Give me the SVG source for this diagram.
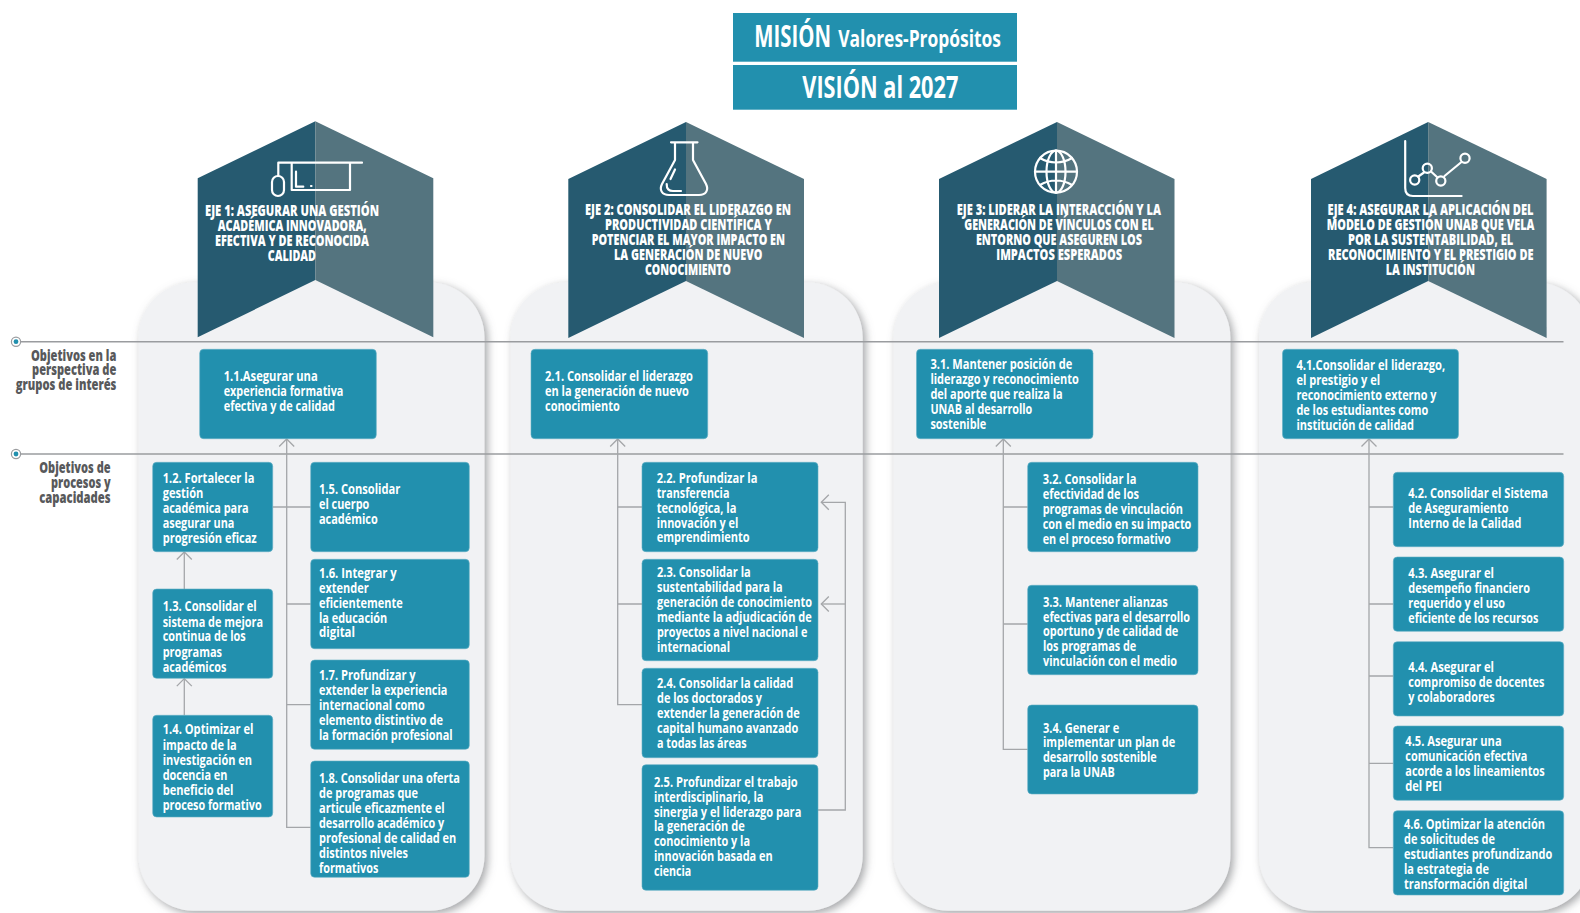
<svg xmlns="http://www.w3.org/2000/svg" width="1580" height="913" viewBox="0 0 1580 913">
<style>
text{font-family:"Open Sans","Liberation Sans",sans-serif;fill:#fff}
.b{font-size:15px;font-weight:700}
.h{font-size:15.5px;font-weight:800}
.l{font-size:15px;font-weight:800;fill:#58595b}
.tl{font-size:30px;font-weight:700}
.ts{font-size:24px;font-weight:700}
.box{fill:#2290ae;stroke:#62aec4;stroke-width:.6}
.top{fill:#2290ae}
.panel{fill:#f1f2f4;filter:url(#sh)}
.dk{fill:#265a70}
.lt{fill:#54747f}
.ic{fill:none;stroke:#fff;stroke-width:2.200;stroke-linecap:round;stroke-linejoin:round}
.c{fill:none;stroke:#a4a6a9;stroke-width:1.300}
.ca{fill:none;stroke:#a4a6a9;stroke-width:1.300;marker-end:url(#arr)}
.g{fill:none;stroke:#9a9c9f;stroke-width:1.500}
</style>
<defs>
<filter id="sh" x="-15%" y="-10%" width="130%" height="120%"><feDropShadow dx="3" dy="3" stdDeviation="4.500" flood-color="#6d6f72" flood-opacity=".62"/></filter>
<marker id="arr" markerUnits="userSpaceOnUse" markerWidth="18" markerHeight="18" refX="9" refY="9" orient="auto" overflow="visible"><path d="M1.500,1.500 L9,9 L1.500,16.500" fill="none" stroke="#a4a6a9" stroke-width="1.300"/></marker>
</defs>
<rect width="1580" height="913" fill="#fff"/>
<g id="panels">
<rect class="panel" x="138.500" y="282.500" width="346" height="628.200" rx="55"/>
<rect class="panel" x="510.500" y="282.500" width="352.200" height="628.200" rx="55"/>
<rect class="panel" x="893.500" y="282.500" width="336.900" height="628.200" rx="55"/>
<rect class="panel" x="1259" y="282.500" width="332" height="628.200" rx="55"/>
</g>
<g id="guides">
<path class="g" d="M21,341.700H1563.500"/>
<path class="g" d="M21,454H1563.500"/>
<circle cx="16" cy="341.700" r="4.600" fill="#fff" stroke="#9a9c9f" stroke-width="1.200"/><circle cx="16" cy="341.700" r="2.400" fill="#2290ae"/>
<circle cx="16" cy="454" r="4.600" fill="#fff" stroke="#9a9c9f" stroke-width="1.200"/><circle cx="16" cy="454" r="2.400" fill="#2290ae"/>
</g>
<g id="label-grupos"><text class="l"><tspan x="31" y="360.700" textLength="85.300" lengthAdjust="spacingAndGlyphs">Objetivos en la</tspan><tspan x="32" y="375" textLength="84.300" lengthAdjust="spacingAndGlyphs">perspectiva de</tspan><tspan x="15.700" y="390" textLength="100.700" lengthAdjust="spacingAndGlyphs">grupos de interés</tspan></text></g>
<g id="label-procesos"><text class="l"><tspan x="39.300" y="473.200" textLength="71.300" lengthAdjust="spacingAndGlyphs">Objetivos de</tspan><tspan x="51" y="488.200" textLength="59.700" lengthAdjust="spacingAndGlyphs">procesos y</tspan><tspan x="39.300" y="503" textLength="71.300" lengthAdjust="spacingAndGlyphs">capacidades</tspan></text></g>
<g id="mision"><rect class="top" x="733" y="13" width="284" height="48.700"/><text><tspan class="tl" x="754.300" y="46.700" textLength="76.700" lengthAdjust="spacingAndGlyphs">MISIÓN</tspan><tspan class="ts" x="838.300" y="46.700" textLength="162.700" lengthAdjust="spacingAndGlyphs">Valores-Propósitos</tspan></text></g>
<g id="vision"><rect class="top" x="733" y="65" width="284" height="44.700"/><text class="tl" x="802.300" y="98.300" textLength="156" lengthAdjust="spacingAndGlyphs">VISIÓN al 2027</text></g>

<g id="connectors">
<path class="ca" d="M310.700,827.300H286.700V439"/>
<path class="c" d="M272.700,507H310.700M286.700,604H310.700M286.700,704.700H310.700"/>
<path class="ca" d="M184.300,589V552"/>
<path class="ca" d="M184.300,715.300V678.600"/>
<path class="ca" d="M642,704.700H617.700V439"/>
<path class="c" d="M617.700,507H642M617.700,604H642"/>
<path class="ca" d="M818,810H845.300V502.300H821.300"/>
<path class="ca" d="M845.300,604H821.300"/>
<path class="ca" d="M1027.700,749.300H1003.300V439"/>
<path class="c" d="M1003.300,507H1027.700M1003.300,624H1027.700"/>
<path class="ca" d="M1393.300,847.700H1369V439"/>
<path class="c" d="M1369,507H1393.300M1369,604H1393.300M1369,676H1393.300M1369,763.300H1393.300"/>
</g>

<g id="eje1">
<polygon class="dk" points="315.300,121.300 197.700,178.300 197.700,337.300 315.300,280"/><polygon class="lt" points="315.300,121.300 433.300,178.300 433.300,337.300 315.300,280"/>
<path class="ic" d="M362,162.700H278.300V176M291.700,162.700V190H350V162.700M296,171.700V186.700H303.300M311,186H311.500"/><rect class="ic" x="272" y="176" width="12" height="20" rx="6"/>
<text class="h"><tspan x="205" y="216" textLength="174" lengthAdjust="spacingAndGlyphs">EJE 1: ASEGURAR UNA GESTIÓN</tspan><tspan x="217.700" y="231" textLength="149" lengthAdjust="spacingAndGlyphs">ACADÉMICA INNOVADORA,</tspan><tspan x="215" y="246" textLength="154" lengthAdjust="spacingAndGlyphs">EFECTIVA Y DE RECONOCIDA</tspan><tspan x="267.700" y="261" textLength="48.300" lengthAdjust="spacingAndGlyphs">CALIDAD</tspan></text>
</g>
<g id="eje2">
<polygon class="dk" points="686,122 568.300,179 568.300,338 686,281"/><polygon class="lt" points="686,122 804,179 804,338 686,281"/>
<path class="ic" d="M671,142.300H697.500M675,143V160L662,184C659,190 662,195 669,195H699C706,195 709,190 706,184L693,160V143M675,169.500L670.500,179M666.700,184C666.500,189 669,191 673,191H681"/>
<text class="h"><tspan x="585" y="215.300" textLength="206" lengthAdjust="spacingAndGlyphs">EJE 2: CONSOLIDAR EL LIDERAZGO EN</tspan><tspan x="605" y="230" textLength="166.700" lengthAdjust="spacingAndGlyphs">PRODUCTIVIDAD CIENTÍFICA Y</tspan><tspan x="591.700" y="245" textLength="193.300" lengthAdjust="spacingAndGlyphs">POTENCIAR EL MAYOR IMPACTO EN</tspan><tspan x="614" y="260" textLength="148.300" lengthAdjust="spacingAndGlyphs">LA GENERACIÓN DE NUEVO</tspan><tspan x="645" y="275" textLength="86" lengthAdjust="spacingAndGlyphs">CONOCIMIENTO</tspan></text>
</g>
<g id="eje3">
<polygon class="dk" points="1057,122 939,179 939,338 1057,281"/><polygon class="lt" points="1057,122 1174.500,179 1174.500,338 1057,281"/>
<circle class="ic" cx="1056" cy="171.700" r="21"/><ellipse class="ic" cx="1056" cy="171.700" rx="9.500" ry="21"/><path class="ic" d="M1056,150.700V192.700M1035,171.700H1077M1040,158C1050,164 1062,164 1072,158M1040,185C1050,179 1062,179 1072,185"/>
<text class="h"><tspan x="956.800" y="215" textLength="204.200" lengthAdjust="spacingAndGlyphs">EJE 3: LIDERAR LA INTERACCIÓN Y LA</tspan><tspan x="964.200" y="230" textLength="189.500" lengthAdjust="spacingAndGlyphs">GENERACIÓN DE VÍNCULOS CON EL</tspan><tspan x="975.900" y="245" textLength="166" lengthAdjust="spacingAndGlyphs">ENTORNO QUE ASEGUREN LOS</tspan><tspan x="996.300" y="260" textLength="125.800" lengthAdjust="spacingAndGlyphs">IMPACTOS ESPERADOS</tspan></text>
</g>
<g id="eje4">
<polygon class="dk" points="1428.200,122 1311,179 1311,338 1428.200,281"/><polygon class="lt" points="1428.200,122 1546.600,179 1546.600,338 1428.200,281"/>
<path class="ic" d="M1405.200,141V188C1405.200,193 1408,196 1413,196H1461.600M1418.300,176.500L1424,172.500M1431,171.500L1437.500,177.500M1444.500,176L1461.500,162"/><circle class="ic" cx="1414.700" cy="180" r="4.600"/><circle class="ic" cx="1427.300" cy="168.300" r="4.600"/><circle class="ic" cx="1440.800" cy="181" r="4.600"/><circle class="ic" cx="1465" cy="158.300" r="4.600"/>
<text class="h"><tspan x="1327.600" y="215" textLength="206" lengthAdjust="spacingAndGlyphs">EJE 4: ASEGURAR LA APLICACIÓN DEL</tspan><tspan x="1326.700" y="230" textLength="207.700" lengthAdjust="spacingAndGlyphs">MODELO DE GESTIÓN UNAB QUE VELA</tspan><tspan x="1348" y="245" textLength="165.200" lengthAdjust="spacingAndGlyphs">POR LA SUSTENTABILIDAD, EL</tspan><tspan x="1328" y="260" textLength="205.500" lengthAdjust="spacingAndGlyphs">RECONOCIMIENTO Y EL PRESTIGIO DE</tspan><tspan x="1385.700" y="275" textLength="89.300" lengthAdjust="spacingAndGlyphs">LA INSTITUCIÓN</tspan></text>
</g>

<g id="n1-1"><rect class="box" x="199.700" y="349.300" width="176.600" height="89.400" rx="4"/><text class="b"><tspan x="223.700" y="380.700" textLength="94" lengthAdjust="spacingAndGlyphs">1.1.Asegurar una</tspan><tspan x="223.700" y="395.700" textLength="119.700" lengthAdjust="spacingAndGlyphs">experiencia formativa</tspan><tspan x="223.700" y="410.700" textLength="111.300" lengthAdjust="spacingAndGlyphs">efectiva y de calidad</tspan></text></g>
<g id="n1-2"><rect class="box" x="152.700" y="462.300" width="120" height="89.400" rx="4"/><text class="b"><tspan x="162.700" y="482.700" textLength="91.700" lengthAdjust="spacingAndGlyphs">1.2. Fortalecer la</tspan><tspan x="162.700" y="497.700" textLength="40.700" lengthAdjust="spacingAndGlyphs">gestión</tspan><tspan x="162.700" y="512.700" textLength="86" lengthAdjust="spacingAndGlyphs">académica para</tspan><tspan x="162.700" y="527.700" textLength="71.700" lengthAdjust="spacingAndGlyphs">asegurar una</tspan><tspan x="162.700" y="542.700" textLength="94" lengthAdjust="spacingAndGlyphs">progresión eficaz</tspan></text></g>
<g id="n1-3"><rect class="box" x="152.700" y="589" width="120" height="89.300" rx="4"/><text class="b"><tspan x="162.700" y="611.300" textLength="94" lengthAdjust="spacingAndGlyphs">1.3. Consolidar el</tspan><tspan x="162.700" y="626.700" textLength="100.300" lengthAdjust="spacingAndGlyphs">sistema de mejora</tspan><tspan x="162.700" y="641.300" textLength="83" lengthAdjust="spacingAndGlyphs">continua de los</tspan><tspan x="162.700" y="656.700" textLength="59.300" lengthAdjust="spacingAndGlyphs">programas</tspan><tspan x="162.700" y="671.700" textLength="63.700" lengthAdjust="spacingAndGlyphs">académicos</tspan></text></g>
<g id="n1-4"><rect class="box" x="152.700" y="715.300" width="120" height="101.700" rx="4"/><text class="b"><tspan x="162.700" y="734.300" textLength="90.700" lengthAdjust="spacingAndGlyphs">1.4. Optimizar el</tspan><tspan x="162.700" y="749.700" textLength="74" lengthAdjust="spacingAndGlyphs">impacto de la</tspan><tspan x="162.700" y="764.700" textLength="89.300" lengthAdjust="spacingAndGlyphs">investigación en</tspan><tspan x="162.700" y="779.700" textLength="64.700" lengthAdjust="spacingAndGlyphs">docencia en</tspan><tspan x="162.700" y="794.700" textLength="70.700" lengthAdjust="spacingAndGlyphs">beneficio del</tspan><tspan x="162.700" y="809.700" textLength="99" lengthAdjust="spacingAndGlyphs">proceso formativo</tspan></text></g>
<g id="n1-5"><rect class="box" x="310.700" y="462.300" width="158.600" height="89.400" rx="4"/><text class="b"><tspan x="319" y="493.700" textLength="81.300" lengthAdjust="spacingAndGlyphs">1.5. Consolidar</tspan><tspan x="319" y="508.700" textLength="50.300" lengthAdjust="spacingAndGlyphs">el cuerpo</tspan><tspan x="319" y="523.700" textLength="58.700" lengthAdjust="spacingAndGlyphs">académico</tspan></text></g>
<g id="n1-6"><rect class="box" x="310.700" y="559.300" width="158.600" height="89.400" rx="4"/><text class="b"><tspan x="319" y="577.700" textLength="77.700" lengthAdjust="spacingAndGlyphs">1.6. Integrar y</tspan><tspan x="319" y="592.700" textLength="49.700" lengthAdjust="spacingAndGlyphs">extender</tspan><tspan x="319" y="607.700" textLength="83.700" lengthAdjust="spacingAndGlyphs">eficientemente</tspan><tspan x="319" y="622.700" textLength="68.300" lengthAdjust="spacingAndGlyphs">la educación</tspan><tspan x="319" y="636.700" textLength="36" lengthAdjust="spacingAndGlyphs">digital</tspan></text></g>
<g id="n1-7"><rect class="box" x="310.700" y="660" width="158.600" height="89.300" rx="4"/><text class="b"><tspan x="319" y="679.700" textLength="96.700" lengthAdjust="spacingAndGlyphs">1.7. Profundizar y</tspan><tspan x="319" y="694.700" textLength="128.300" lengthAdjust="spacingAndGlyphs">extender la experiencia</tspan><tspan x="319" y="709.700" textLength="105.700" lengthAdjust="spacingAndGlyphs">internacional como</tspan><tspan x="319" y="724.700" textLength="124" lengthAdjust="spacingAndGlyphs">elemento distintivo de</tspan><tspan x="319" y="739.700" textLength="133.700" lengthAdjust="spacingAndGlyphs">la formación profesional</tspan></text></g>
<g id="n1-8"><rect class="box" x="310.700" y="761" width="158.600" height="116.300" rx="4"/><text class="b"><tspan x="319" y="782.700" textLength="141" lengthAdjust="spacingAndGlyphs">1.8. Consolidar una oferta</tspan><tspan x="319" y="797.700" textLength="99" lengthAdjust="spacingAndGlyphs">de programas que</tspan><tspan x="319" y="812.700" textLength="125.700" lengthAdjust="spacingAndGlyphs">articule eficazmente el</tspan><tspan x="319" y="827.700" textLength="125.300" lengthAdjust="spacingAndGlyphs">desarrollo académico y</tspan><tspan x="319" y="842.700" textLength="137.300" lengthAdjust="spacingAndGlyphs">profesional de calidad en</tspan><tspan x="319" y="857.700" textLength="89" lengthAdjust="spacingAndGlyphs">distintos niveles</tspan><tspan x="319" y="872.700" textLength="59.300" lengthAdjust="spacingAndGlyphs">formativos</tspan></text></g>

<g id="n2-1"><rect class="box" x="531" y="349.300" width="176.700" height="89.400" rx="4"/><text class="b"><tspan x="545" y="380.700" textLength="148" lengthAdjust="spacingAndGlyphs">2.1. Consolidar el liderazgo</tspan><tspan x="545" y="395.700" textLength="143.700" lengthAdjust="spacingAndGlyphs">en la generación de nuevo</tspan><tspan x="545" y="410.700" textLength="74.700" lengthAdjust="spacingAndGlyphs">conocimiento</tspan></text></g>
<g id="n2-2"><rect class="box" x="642" y="462.300" width="176" height="89.400" rx="4"/><text class="b"><tspan x="656.700" y="482.700" textLength="100.700" lengthAdjust="spacingAndGlyphs">2.2. Profundizar la</tspan><tspan x="656.700" y="497.700" textLength="72.700" lengthAdjust="spacingAndGlyphs">transferencia</tspan><tspan x="656.700" y="512.700" textLength="79.700" lengthAdjust="spacingAndGlyphs">tecnológica, la</tspan><tspan x="656.700" y="527.700" textLength="81.700" lengthAdjust="spacingAndGlyphs">innovación y el</tspan><tspan x="656.700" y="541.700" textLength="93" lengthAdjust="spacingAndGlyphs">emprendimiento</tspan></text></g>
<g id="n2-3"><rect class="box" x="642" y="559.300" width="176" height="101.400" rx="4"/><text class="b"><tspan x="657" y="576.700" textLength="93.700" lengthAdjust="spacingAndGlyphs">2.3. Consolidar la</tspan><tspan x="657" y="591.700" textLength="125.700" lengthAdjust="spacingAndGlyphs">sustentabilidad para la</tspan><tspan x="657" y="606.700" textLength="155" lengthAdjust="spacingAndGlyphs">generación de conocimiento</tspan><tspan x="657" y="621.700" textLength="154.700" lengthAdjust="spacingAndGlyphs">mediante la adjudicación de</tspan><tspan x="657" y="636.700" textLength="150.300" lengthAdjust="spacingAndGlyphs">proyectos a nivel nacional e</tspan><tspan x="657" y="651.700" textLength="73" lengthAdjust="spacingAndGlyphs">internacional</tspan></text></g>
<g id="n2-4"><rect class="box" x="642" y="668.300" width="176" height="89.400" rx="4"/><text class="b"><tspan x="657" y="687.700" textLength="136.300" lengthAdjust="spacingAndGlyphs">2.4. Consolidar la calidad</tspan><tspan x="657" y="702.700" textLength="105" lengthAdjust="spacingAndGlyphs">de los doctorados y</tspan><tspan x="657" y="717.700" textLength="142.700" lengthAdjust="spacingAndGlyphs">extender la generación de</tspan><tspan x="657" y="732.700" textLength="141.300" lengthAdjust="spacingAndGlyphs">capital humano avanzado</tspan><tspan x="657" y="747.700" textLength="89.700" lengthAdjust="spacingAndGlyphs">a todas las áreas</tspan></text></g>
<g id="n2-5"><rect class="box" x="642" y="764.700" width="176" height="125.600" rx="4"/><text class="b"><tspan x="654" y="786.700" textLength="143.700" lengthAdjust="spacingAndGlyphs">2.5. Profundizar el trabajo</tspan><tspan x="654" y="801.700" textLength="109.300" lengthAdjust="spacingAndGlyphs">interdisciplinario, la</tspan><tspan x="654" y="816.700" textLength="147.300" lengthAdjust="spacingAndGlyphs">sinergia y el liderazgo para</tspan><tspan x="654" y="830.700" textLength="90.700" lengthAdjust="spacingAndGlyphs">la generación de</tspan><tspan x="654" y="845.700" textLength="96" lengthAdjust="spacingAndGlyphs">conocimiento y la</tspan><tspan x="654" y="860.700" textLength="118.700" lengthAdjust="spacingAndGlyphs">innovación basada en</tspan><tspan x="654" y="875.700" textLength="37.300" lengthAdjust="spacingAndGlyphs">ciencia</tspan></text></g>

<g id="n3-1"><rect class="box" x="916.500" y="349.300" width="176.500" height="89.400" rx="4"/><text class="b"><tspan x="930.400" y="368.700" textLength="141.800" lengthAdjust="spacingAndGlyphs">3.1. Mantener posición de</tspan><tspan x="930.400" y="383.700" textLength="148.300" lengthAdjust="spacingAndGlyphs">liderazgo y reconocimiento</tspan><tspan x="930.400" y="398.700" textLength="132.300" lengthAdjust="spacingAndGlyphs">del aporte que realiza la</tspan><tspan x="930.400" y="413.700" textLength="101.900" lengthAdjust="spacingAndGlyphs">UNAB al desarrollo</tspan><tspan x="930.400" y="428.700" textLength="55.900" lengthAdjust="spacingAndGlyphs">sostenible</tspan></text></g>
<g id="n3-2"><rect class="box" x="1027.700" y="462.300" width="170.300" height="89.400" rx="4"/><text class="b"><tspan x="1042.700" y="483.700" textLength="93.700" lengthAdjust="spacingAndGlyphs">3.2. Consolidar la</tspan><tspan x="1042.700" y="498.700" textLength="96.300" lengthAdjust="spacingAndGlyphs">efectividad de los</tspan><tspan x="1042.700" y="513.700" textLength="140.300" lengthAdjust="spacingAndGlyphs">programas de vinculación</tspan><tspan x="1042.700" y="528.700" textLength="148.700" lengthAdjust="spacingAndGlyphs">con el medio en su impacto</tspan><tspan x="1042.700" y="543.700" textLength="128" lengthAdjust="spacingAndGlyphs">en el proceso formativo</tspan></text></g>
<g id="n3-3"><rect class="box" x="1027.700" y="585.300" width="170.300" height="89.400" rx="4"/><text class="b"><tspan x="1043" y="606.700" textLength="124.700" lengthAdjust="spacingAndGlyphs">3.3. Mantener alianzas</tspan><tspan x="1043" y="621.700" textLength="147" lengthAdjust="spacingAndGlyphs">efectivas para el desarrollo</tspan><tspan x="1043" y="636" textLength="135.300" lengthAdjust="spacingAndGlyphs">oportuno y de calidad de</tspan><tspan x="1043" y="651" textLength="93.300" lengthAdjust="spacingAndGlyphs">los programas de</tspan><tspan x="1043" y="666" textLength="134" lengthAdjust="spacingAndGlyphs">vinculación con el medio</tspan></text></g>
<g id="n3-4"><rect class="box" x="1027.700" y="705" width="170.300" height="89" rx="4"/><text class="b"><tspan x="1043" y="732.700" textLength="76.300" lengthAdjust="spacingAndGlyphs">3.4. Generar e</tspan><tspan x="1043" y="746.700" textLength="132.300" lengthAdjust="spacingAndGlyphs">implementar un plan de</tspan><tspan x="1043" y="761.700" textLength="113.700" lengthAdjust="spacingAndGlyphs">desarrollo sostenible</tspan><tspan x="1043" y="776.700" textLength="71.700" lengthAdjust="spacingAndGlyphs">para la UNAB</tspan></text></g>

<g id="n4-1"><rect class="box" x="1282.500" y="349.300" width="176" height="89.400" rx="4"/><text class="b"><tspan x="1296.400" y="369.700" textLength="148.700" lengthAdjust="spacingAndGlyphs">4.1.Consolidar el liderazgo,</tspan><tspan x="1296.400" y="384.700" textLength="83.700" lengthAdjust="spacingAndGlyphs">el prestigio y el</tspan><tspan x="1296.400" y="399.700" textLength="140" lengthAdjust="spacingAndGlyphs">reconocimiento externo y</tspan><tspan x="1296.400" y="414.700" textLength="131.800" lengthAdjust="spacingAndGlyphs">de los estudiantes como</tspan><tspan x="1296.400" y="429.700" textLength="117.500" lengthAdjust="spacingAndGlyphs">institución de calidad</tspan></text></g>
<g id="n4-2"><rect class="box" x="1393.300" y="472.300" width="170.400" height="74.400" rx="4"/><text class="b"><tspan x="1408.300" y="497.700" textLength="139.700" lengthAdjust="spacingAndGlyphs">4.2. Consolidar el Sistema</tspan><tspan x="1408.300" y="512.700" textLength="100.300" lengthAdjust="spacingAndGlyphs">de Aseguramiento</tspan><tspan x="1408.300" y="527.700" textLength="113" lengthAdjust="spacingAndGlyphs">Interno de la Calidad</tspan></text></g>
<g id="n4-3"><rect class="box" x="1393.300" y="557" width="170.400" height="74.300" rx="4"/><text class="b"><tspan x="1408.300" y="577.700" textLength="85.700" lengthAdjust="spacingAndGlyphs">4.3. Asegurar el</tspan><tspan x="1408.300" y="592.700" textLength="121.700" lengthAdjust="spacingAndGlyphs">desempeño financiero</tspan><tspan x="1408.300" y="607.700" textLength="96.700" lengthAdjust="spacingAndGlyphs">requerido y el uso</tspan><tspan x="1408.300" y="622.700" textLength="130" lengthAdjust="spacingAndGlyphs">eficiente de los recursos</tspan></text></g>
<g id="n4-4"><rect class="box" x="1393.300" y="641.700" width="170.400" height="74.300" rx="4"/><text class="b"><tspan x="1408.300" y="671.700" textLength="85.700" lengthAdjust="spacingAndGlyphs">4.4. Asegurar el</tspan><tspan x="1408.300" y="686.700" textLength="136" lengthAdjust="spacingAndGlyphs">compromiso de docentes</tspan><tspan x="1408.300" y="701.700" textLength="86.300" lengthAdjust="spacingAndGlyphs">y colaboradores</tspan></text></g>
<g id="n4-5"><rect class="box" x="1393.300" y="726" width="170.400" height="74.300" rx="4"/><text class="b"><tspan x="1405.300" y="745.700" textLength="96.300" lengthAdjust="spacingAndGlyphs">4.5. Asegurar una</tspan><tspan x="1405.300" y="760.700" textLength="122" lengthAdjust="spacingAndGlyphs">comunicación efectiva</tspan><tspan x="1405.300" y="775.700" textLength="139.300" lengthAdjust="spacingAndGlyphs">acorde a los lineamientos</tspan><tspan x="1405.300" y="790.700" textLength="36.700" lengthAdjust="spacingAndGlyphs">del PEI</tspan></text></g>
<g id="n4-6"><rect class="box" x="1393.300" y="810.700" width="170.400" height="84.300" rx="4"/><text class="b"><tspan x="1404" y="828.700" textLength="141" lengthAdjust="spacingAndGlyphs">4.6. Optimizar la atención</tspan><tspan x="1404" y="843.700" textLength="91" lengthAdjust="spacingAndGlyphs">de solicitudes de</tspan><tspan x="1404" y="858.700" textLength="148.300" lengthAdjust="spacingAndGlyphs">estudiantes profundizando</tspan><tspan x="1404" y="873.700" textLength="85" lengthAdjust="spacingAndGlyphs">la estrategia de</tspan><tspan x="1404" y="888.700" textLength="123.300" lengthAdjust="spacingAndGlyphs">transformación digital</tspan></text></g>
</svg>
